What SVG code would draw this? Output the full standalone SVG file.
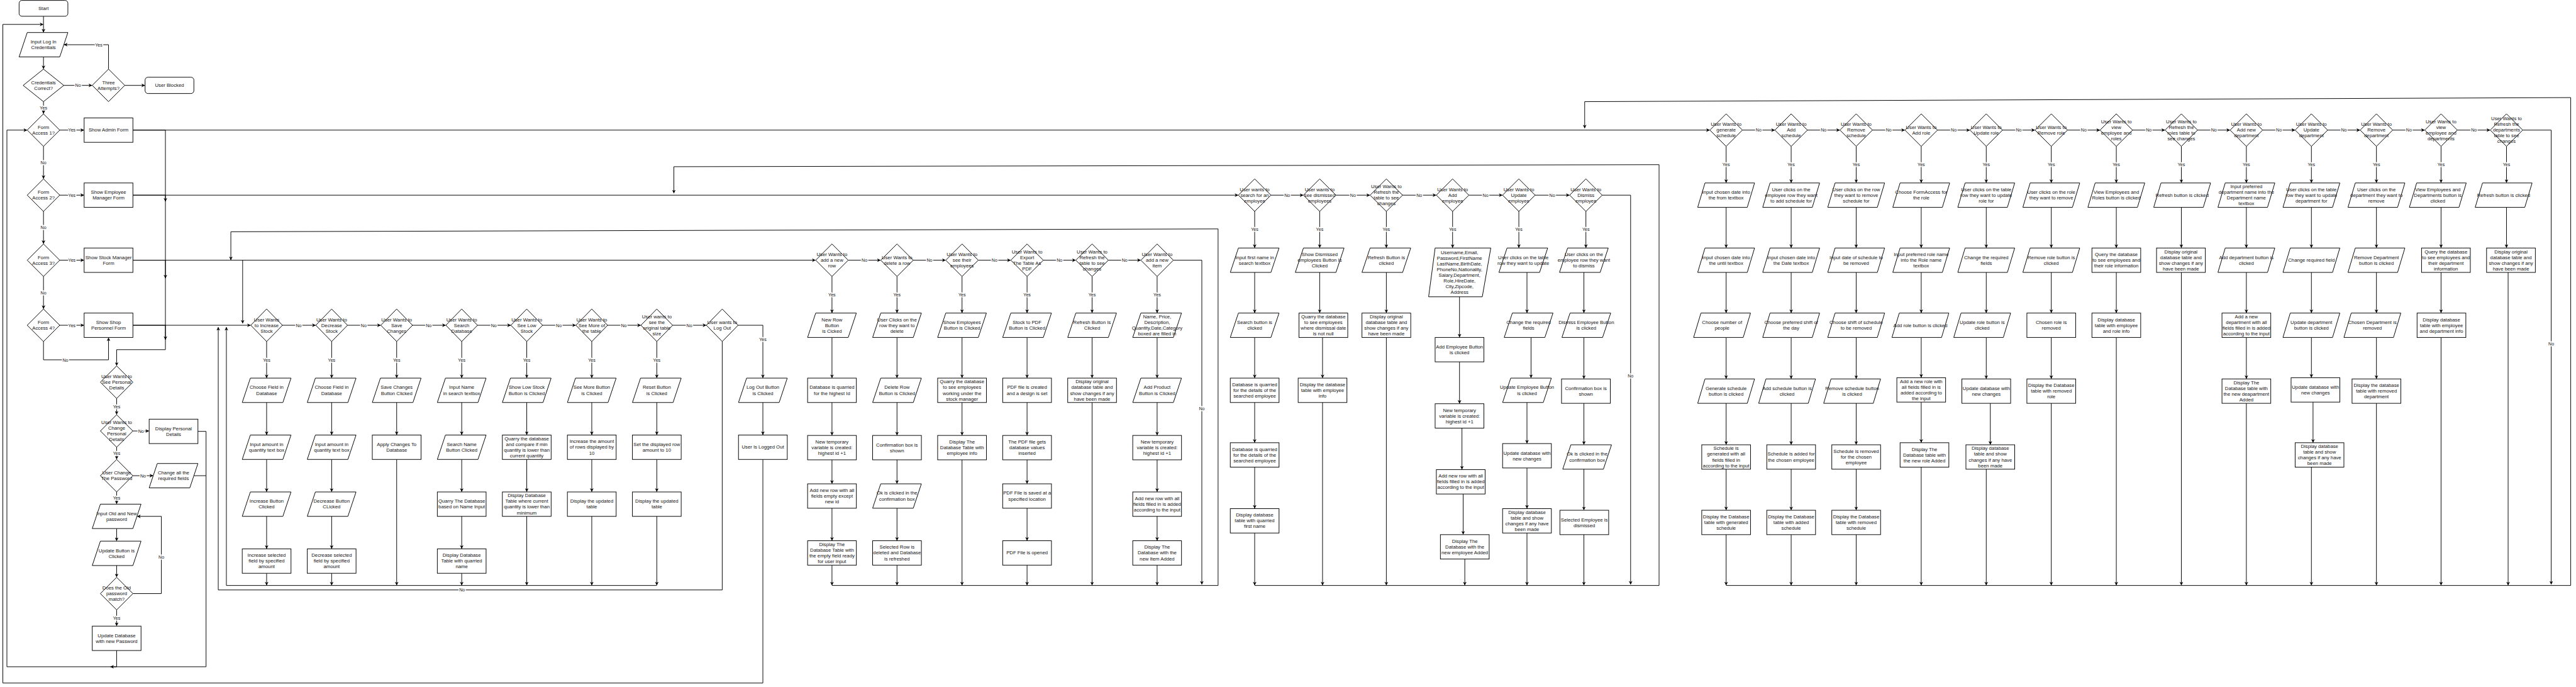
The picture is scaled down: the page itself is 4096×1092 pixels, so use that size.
<svg xmlns="http://www.w3.org/2000/svg" width="4096" height="1092" viewBox="0 0 4096 1092">
<style>
.n{fill:#fff;stroke:#000;stroke-width:1.5}
.t{font-family:"Liberation Sans",Arial,sans-serif;font-size:12px;fill:#111;text-anchor:middle}
.e{fill:none;stroke:#000;stroke-width:1.5}
.a{marker-end:url(#ah)}
.l{font-family:"Liberation Sans",Arial,sans-serif;font-size:11px;fill:#111;text-anchor:middle;paint-order:stroke;stroke:#fff;stroke-width:5px;stroke-linejoin:round}
</style>
<defs>
<marker id="ah" viewBox="0 0 10 10" refX="9" refY="5" markerWidth="9" markerHeight="9" markerUnits="userSpaceOnUse" orient="auto"><path d="M0,0 L10,5 L0,10 L3,5 z" fill="#000"/></marker>
</defs>
<rect width="4096" height="1092" fill="#fff"/>
<g transform="scale(0.646259)">
<g id="connectors">
<path class="e a" d="M107,40 V79"/>
<path class="e a" d="M107,140 V169"/>
<path class="e a" d="M157,210 H226"/><text class="l" x="192" y="214">No</text>
<path class="e a" d="M307,210 H356"/>
<path class="e a" d="M267,170 V110 H158"/><text class="l" x="243" y="114">Yes</text>
<path class="e a" d="M107,250 V279"/><text class="l" x="107" y="269">Yes</text>
<path class="e a" d="M147,320 H206"/><text class="l" x="177" y="324">Yes</text>
<path class="e a" d="M107,360 V439"/><text class="l" x="107" y="404">No</text>
<path class="e a" d="M147,480 H206"/><text class="l" x="177" y="484">Yes</text>
<path class="e a" d="M107,520 V599"/><text class="l" x="107" y="564">No</text>
<path class="e a" d="M147,640 H206"/><text class="l" x="177" y="644">Yes</text>
<path class="e a" d="M107,680 V759"/><text class="l" x="107" y="724">No</text>
<path class="e a" d="M147,800 H206"/><text class="l" x="177" y="804">Yes</text>
<path class="e a" d="M107,840 V885 H267 V831"/><text class="l" x="161" y="889">No</text>
<path class="e a" d="M327,320 H407 V860 H287 V899"/>
<path class="e a" d="M327,480 H407 V495"/>
<path class="e a" d="M327,640 H407 V684"/>
<path class="e a" d="M327,800 H407 V835"/>
<path class="e a" d="M287,980 V1019"/><text class="l" x="287" y="1004">Yes</text>
<path class="e a" d="M327,1060 H366"/><text class="l" x="347" y="1064">No</text>
<path class="e a" d="M287,1100 V1129"/><text class="l" x="287" y="1119">Yes</text>
<path class="e a" d="M327,1170 H376"/><text class="l" x="352" y="1174">No</text>
<path class="e a" d="M287,1210 V1239"/><text class="l" x="287" y="1229">Yes</text>
<path class="e a" d="M287,1300 V1330"/>
<path class="e a" d="M287,1391 V1419"/>
<path class="e a" d="M327,1460 H397 V1270 H338"/><text class="l" x="397" y="1374">No</text>
<path class="e a" d="M287,1500 V1539"/><text class="l" x="287" y="1524">Yes</text>
<path class="e a" d="M487,1061 H507 V1640 H17 V320 H66"/>
<path class="e" d="M477,1170 H507"/>
<path class="e a" d="M287,1600 V1640 H272"/>
<path class="e a" d="M1877,1130 V1680 H7 V60 H106"/>
<path class="e a" d="M327,320 H4206"/>
<path class="e a" d="M327,480 H3046"/>
<path class="e a" d="M327,640 H2006"/>
<path class="e a" d="M597,640 V795"/>
<path class="e a" d="M327,800 H616"/>
<!-- row 800 -->
<path class="e a" d="M695,800 H776"/><text class="l" x="735" y="804">No</text>
<path class="e a" d="M855,800 H936"/><text class="l" x="895" y="804">No</text>
<path class="e a" d="M1015,800 H1096"/><text class="l" x="1055" y="804">No</text>
<path class="e a" d="M1175,800 H1256"/><text class="l" x="1215" y="804">No</text>
<path class="e a" d="M1335,800 H1416"/><text class="l" x="1375" y="804">No</text>
<path class="e a" d="M1495,800 H1576"/><text class="l" x="1535" y="804">No</text>
<path class="e a" d="M1655,800 H1737"/><text class="l" x="1696" y="804">No</text>
<path class="e a" d="M656,840 V929"/><text class="l" x="656" y="889">Yes</text>
<path class="e a" d="M656,990 V1069"/><path class="e a" d="M656,1130 V1209"/><path class="e a" d="M656,1270 V1349"/><path class="e a" d="M656,1410 V1439"/>
<path class="e a" d="M816,840 V929"/><text class="l" x="816" y="889">Yes</text>
<path class="e a" d="M816,990 V1069"/><path class="e a" d="M816,1130 V1209"/><path class="e a" d="M816,1270 V1349"/><path class="e a" d="M816,1410 V1439"/>
<path class="e a" d="M976,840 V929"/><text class="l" x="976" y="889">Yes</text>
<path class="e a" d="M976,990 V1069"/><path class="e a" d="M976,1130 V1439"/>
<path class="e a" d="M1136,840 V929"/><text class="l" x="1136" y="889">Yes</text>
<path class="e a" d="M1136,990 V1069"/><path class="e a" d="M1136,1130 V1209"/><path class="e a" d="M1136,1270 V1349"/><path class="e a" d="M1136,1410 V1439"/>
<path class="e a" d="M1296,840 V929"/><text class="l" x="1296" y="889">Yes</text>
<path class="e a" d="M1296,990 V1069"/><path class="e a" d="M1296,1130 V1209"/><path class="e a" d="M1296,1270 V1439"/>
<path class="e a" d="M1456,840 V929"/><text class="l" x="1456" y="889">Yes</text>
<path class="e a" d="M1456,990 V1069"/><path class="e a" d="M1456,1130 V1209"/><path class="e a" d="M1456,1270 V1439"/>
<path class="e a" d="M1616,840 V929"/><text class="l" x="1616" y="889">Yes</text>
<path class="e a" d="M1616,990 V1069"/><path class="e a" d="M1616,1130 V1209"/><path class="e a" d="M1616,1270 V1439"/>
<path class="e a" d="M1616,1440 H557 V805"/>
<path class="e a" d="M1777,840 V1451 H537 V805"/><text class="l" x="1137" y="1455">No</text>
<path class="e a" d="M1816,800 H1877 V929"/><text class="l" x="1877" y="839">Yes</text>
<path class="e a" d="M1877,990 V1069"/>
<!-- stock manager -->
<path class="e a" d="M2087,640 H2166"/><text class="l" x="2127" y="644">No</text>
<path class="e a" d="M2247,640 H2326"/><text class="l" x="2287" y="644">No</text>
<path class="e a" d="M2407,640 H2486"/><text class="l" x="2447" y="644">No</text>
<path class="e a" d="M2567,640 H2646"/><text class="l" x="2607" y="644">No</text>
<path class="e a" d="M2727,640 H2806"/><text class="l" x="2767" y="644">No</text>
<path class="e a" d="M2887,640 H2957 V1437"/><text class="l" x="2957" y="1009">No</text>
<path class="e a" d="M2047,680 V769"/><text class="l" x="2047" y="729">Yes</text>
<path class="e a" d="M2047,830 V929"/><path class="e a" d="M2047,990 V1070"/><path class="e a" d="M2047,1131 V1189"/><path class="e a" d="M2047,1250 V1329"/><path class="e a" d="M2047,1390 V1439"/>
<path class="e a" d="M2207,680 V769"/><text class="l" x="2207" y="729">Yes</text>
<path class="e a" d="M2207,830 V929"/><path class="e a" d="M2207,990 V1070"/><path class="e a" d="M2207,1131 V1189"/><path class="e a" d="M2207,1250 V1329"/><path class="e a" d="M2207,1390 V1439"/>
<path class="e a" d="M2367,680 V769"/><text class="l" x="2367" y="729">Yes</text>
<path class="e a" d="M2367,830 V929"/><path class="e a" d="M2367,990 V1070"/><path class="e a" d="M2367,1131 V1439"/>
<path class="e a" d="M2527,680 V769"/><text class="l" x="2527" y="729">Yes</text>
<path class="e a" d="M2527,830 V929"/><path class="e a" d="M2527,990 V1070"/><path class="e a" d="M2527,1131 V1189"/><path class="e a" d="M2527,1250 V1329"/><path class="e a" d="M2527,1390 V1439"/>
<path class="e a" d="M2687,680 V769"/><text class="l" x="2687" y="729">Yes</text>
<path class="e a" d="M2687,830 V929"/><path class="e a" d="M2687,990 V1439"/>
<path class="e a" d="M2847,680 V769"/><text class="l" x="2847" y="729">Yes</text>
<path class="e a" d="M2847,830 V929"/><path class="e a" d="M2847,990 V1070"/><path class="e a" d="M2847,1131 V1209"/><path class="e a" d="M2847,1270 V1329"/><path class="e a" d="M2847,1390 V1439"/>
<path class="e a" d="M2047,1440 H2997 V563 L568,570 V639"/>
<!-- employee -->
<path class="e a" d="M3127,480 H3206"/><text class="l" x="3167" y="484">No</text>
<path class="e a" d="M3287,480 H3370"/><text class="l" x="3329" y="484">No</text>
<path class="e a" d="M3451,480 H3533"/><text class="l" x="3492" y="484">No</text>
<path class="e a" d="M3614,480 H3696"/><text class="l" x="3655" y="484">No</text>
<path class="e a" d="M3777,480 H3861"/><text class="l" x="3819" y="484">No</text>
<path class="e a" d="M3942,480 H4012 V1437"/><text class="l" x="4012" y="929">No</text>
<path class="e a" d="M3087,520 V609"/><text class="l" x="3087" y="568">Yes</text>
<path class="e a" d="M3087,670 V769"/><path class="e a" d="M3087,830 V929"/><path class="e a" d="M3087,990 V1088"/><path class="e a" d="M3087,1149 V1250"/><path class="e a" d="M3087,1311 V1439"/>
<path class="e a" d="M3247,520 V609"/><text class="l" x="3247" y="568">Yes</text>
<path class="e a" d="M3247,670 V769"/><path class="e a" d="M3254,830 V929"/><path class="e a" d="M3254,990 V1439"/>
<path class="e a" d="M3411,520 V609"/><text class="l" x="3411" y="568">Yes</text>
<path class="e a" d="M3411,670 V769"/><path class="e a" d="M3411,830 V1439"/>
<path class="e a" d="M3574,520 V609"/><text class="l" x="3574" y="568">Yes</text>
<path class="e a" d="M3591,730 V829"/><path class="e a" d="M3591,890 V992"/><path class="e a" d="M3597,1053 V1154"/><path class="e a" d="M3600,1215 V1314"/><path class="e a" d="M3604,1375 V1439"/>
<path class="e a" d="M3737,520 V609"/><text class="l" x="3737" y="568">Yes</text>
<path class="e a" d="M3757,670 V769"/><path class="e a" d="M3767,830 V929"/><path class="e a" d="M3757,990 V1090"/><path class="e a" d="M3757,1151 V1250"/><path class="e a" d="M3757,1311 V1439"/>
<path class="e a" d="M3902,520 V609"/><text class="l" x="3902" y="568">Yes</text>
<path class="e a" d="M3897,670 V769"/><path class="e a" d="M3897,830 V931"/><path class="e a" d="M3897,992 V1093"/><path class="e a" d="M3897,1154 V1254"/><path class="e a" d="M3897,1315 V1439"/>
<path class="e a" d="M3087,1440 H4082 V405 L1658,410 V475"/>
<!-- admin -->
<path class="e a" d="M4287,320 H4366"/><text class="l" x="4327" y="324">No</text>
<path class="e a" d="M4447,320 H4526"/><text class="l" x="4487" y="324">No</text>
<path class="e a" d="M4607,320 H4686"/><text class="l" x="4647" y="324">No</text>
<path class="e a" d="M4767,320 H4846"/><text class="l" x="4807" y="324">No</text>
<path class="e a" d="M4927,320 H5006"/><text class="l" x="4967" y="324">No</text>
<path class="e a" d="M5087,320 H5166"/><text class="l" x="5127" y="324">No</text>
<path class="e a" d="M5247,320 H5326"/><text class="l" x="5287" y="324">No</text>
<path class="e a" d="M5407,320 H5486"/><text class="l" x="5447" y="324">No</text>
<path class="e a" d="M5567,320 H5646"/><text class="l" x="5607" y="324">No</text>
<path class="e a" d="M5727,320 H5806"/><text class="l" x="5767" y="324">No</text>
<path class="e a" d="M5887,320 H5965"/><text class="l" x="5927" y="324">No</text>
<path class="e a" d="M6046,320 H6126"/><text class="l" x="6087" y="324">No</text>
<path class="e a" d="M6207,320 H6277 V1437"/><text class="l" x="6277" y="849">No</text>
<path class="e a" d="M4247,360 V449"/><text class="l" x="4247" y="409">Yes</text>
<path class="e a" d="M4247,510 V609"/><path class="e a" d="M4247,670 V769"/><path class="e a" d="M4247,830 V931"/><path class="e a" d="M4247,992 V1093"/><path class="e a" d="M4247,1154 V1254"/><path class="e a" d="M4247,1315 V1439"/>
<path class="e a" d="M4407,360 V449"/><text class="l" x="4407" y="409">Yes</text>
<path class="e a" d="M4407,510 V609"/><path class="e a" d="M4407,670 V769"/><path class="e a" d="M4407,830 V931"/><path class="e a" d="M4407,992 V1093"/><path class="e a" d="M4407,1154 V1254"/><path class="e a" d="M4407,1315 V1439"/>
<path class="e a" d="M4567,360 V449"/><text class="l" x="4567" y="409">Yes</text>
<path class="e a" d="M4567,510 V609"/><path class="e a" d="M4567,670 V769"/><path class="e a" d="M4567,830 V931"/><path class="e a" d="M4567,992 V1093"/><path class="e a" d="M4567,1154 V1254"/><path class="e a" d="M4567,1315 V1439"/>
<path class="e a" d="M4727,360 V449"/><text class="l" x="4727" y="409">Yes</text>
<path class="e a" d="M4727,510 V609"/><path class="e a" d="M4727,670 V769"/><path class="e a" d="M4727,830 V928"/><path class="e a" d="M4727,989 V1088"/><path class="e a" d="M4727,1149 V1439"/>
<path class="e a" d="M4887,360 V449"/><text class="l" x="4887" y="409">Yes</text>
<path class="e a" d="M4887,510 V609"/><path class="e a" d="M4887,670 V769"/><path class="e a" d="M4887,830 V931"/><path class="e a" d="M4897,992 V1093"/><path class="e a" d="M4887,1154 V1439"/>
<path class="e a" d="M5047,360 V449"/><text class="l" x="5047" y="409">Yes</text>
<path class="e a" d="M5047,510 V609"/><path class="e a" d="M5047,670 V769"/><path class="e a" d="M5047,830 V931"/><path class="e a" d="M5047,992 V1439"/>
<path class="e a" d="M5207,360 V449"/><text class="l" x="5207" y="409">Yes</text>
<path class="e a" d="M5207,510 V609"/><path class="e a" d="M5207,670 V769"/><path class="e a" d="M5207,830 V1439"/>
<path class="e a" d="M5367,360 V449"/><text class="l" x="5367" y="409">Yes</text>
<path class="e a" d="M5367,510 V609"/><path class="e a" d="M5367,670 V1439"/>
<path class="e a" d="M5527,360 V449"/><text class="l" x="5527" y="409">Yes</text>
<path class="e a" d="M5527,510 V609"/><path class="e a" d="M5527,670 V769"/><path class="e a" d="M5527,830 V931"/><path class="e a" d="M5527,992 V1439"/>
<path class="e a" d="M5687,360 V449"/><text class="l" x="5687" y="409">Yes</text>
<path class="e a" d="M5687,510 V609"/><path class="e a" d="M5687,670 V769"/><path class="e a" d="M5687,830 V928"/><path class="e a" d="M5691,989 V1088"/><path class="e a" d="M5687,1149 V1439"/>
<path class="e a" d="M5847,360 V449"/><text class="l" x="5847" y="409">Yes</text>
<path class="e a" d="M5847,510 V609"/><path class="e a" d="M5847,670 V769"/><path class="e a" d="M5847,830 V931"/><path class="e a" d="M5847,992 V1439"/>
<path class="e a" d="M6006,360 V449"/><text class="l" x="6006" y="409">Yes</text>
<path class="e a" d="M6006,510 V609"/><path class="e a" d="M6006,670 V769"/><path class="e a" d="M6006,830 V1439"/>
<path class="e a" d="M6167,360 V449"/><text class="l" x="6167" y="409">Yes</text>
<path class="e a" d="M6167,510 V609"/><path class="e a" d="M6171,670 V1439"/>
<path class="e a" d="M4247,1440 H6325 V240 L3899,250 V315"/>
</g>

<!-- LEFT -->
<g id="n-start"><rect class="n" x="47" y="1" width="120" height="39" rx="7"/><text class="t" x="107" y="25">Start</text></g>
<g id="n-input"><polygon class="n" points="67,80 167,80 147,140 47,140"/><text class="t"><tspan x="107" y="107">Input Log In</tspan><tspan x="107" y="121">Credentials</tspan></text></g>
<g id="n-cred"><polygon class="n" points="107,170 157,210 107,250 57,210"/><text class="t"><tspan x="107" y="207">Credentials</tspan><tspan x="107" y="221">Correct?</tspan></text></g>
<g id="n-three"><polygon class="n" points="267,170 307,210 267,250 227,210"/><text class="t"><tspan x="267" y="207">Three</tspan><tspan x="267" y="221">Attempts?</tspan></text></g>
<g id="n-blocked"><rect class="n" x="357" y="190" width="120" height="40" rx="7"/><text class="t" x="417" y="214">User Blocked</text></g>
<g id="n-fa1"><polygon class="n" points="107,280 147,320 107,360 67,320"/><text class="t"><tspan x="107" y="317">Form</tspan><tspan x="107" y="331">Access 1?</tspan></text></g>
<g id="n-admin-form"><rect class="n" x="207" y="290" width="120" height="60"/><text class="t" x="267" y="324">Show Admin Form</text></g>
<g id="n-fa2"><polygon class="n" points="107,440 147,480 107,520 67,480"/><text class="t"><tspan x="107" y="477">Form</tspan><tspan x="107" y="491">Access 2?</tspan></text></g>
<g id="n-emp-form"><rect class="n" x="207" y="450" width="120" height="60"/><text class="t"><tspan x="267" y="477">Show Employee</tspan><tspan x="267" y="491">Manager Form</tspan></text></g>
<g id="n-fa3"><polygon class="n" points="107,600 147,640 107,680 67,640"/><text class="t"><tspan x="107" y="637">Form</tspan><tspan x="107" y="651">Access 3?</tspan></text></g>
<g id="n-stock-form"><rect class="n" x="207" y="610" width="120" height="60"/><text class="t"><tspan x="267" y="637">Show Stock Manager</tspan><tspan x="267" y="651">Form</tspan></text></g>
<g id="n-fa4"><polygon class="n" points="107,760 147,800 107,840 67,800"/><text class="t"><tspan x="107" y="797">Form</tspan><tspan x="107" y="811">Access 4?</tspan></text></g>
<g id="n-shop-form"><rect class="n" x="207" y="770" width="120" height="60"/><text class="t"><tspan x="267" y="797">Show Shop</tspan><tspan x="267" y="811">Personnel Form</tspan></text></g>
<g id="n-see-pd"><polygon class="n" points="287,900 327,940 287,980 247,940"/><text class="t"><tspan x="287" y="930">User Wants to</tspan><tspan x="287" y="944">See Personal</tspan><tspan x="287" y="958">Details</tspan></text></g>
<g id="n-change-pd"><polygon class="n" points="287,1020 327,1060 287,1100 247,1060"/><text class="t"><tspan x="287" y="1043">User Wants to</tspan><tspan x="287" y="1057">Change</tspan><tspan x="287" y="1071">Personal</tspan><tspan x="287" y="1085">Details</tspan></text></g>
<g id="n-disp-pd"><rect class="n" x="367" y="1031" width="120" height="60"/><text class="t"><tspan x="427" y="1058">Display Personal</tspan><tspan x="427" y="1072">Details</tspan></text></g>
<g id="n-change-pw"><polygon class="n" points="287,1130 327,1170 287,1210 247,1170"/><text class="t"><tspan x="287" y="1167">User Change</tspan><tspan x="287" y="1181">The Password</tspan></text></g>
<g id="n-change-all"><polygon class="n" points="387,1140 487,1140 467,1200 367,1200"/><text class="t"><tspan x="427" y="1167">Change all the</tspan><tspan x="427" y="1181">required fields</tspan></text></g>
<g id="n-input-old"><polygon class="n" points="247,1240 347,1240 327,1300 227,1300"/><text class="t"><tspan x="287" y="1267">Input Old and New</tspan><tspan x="287" y="1281">password</tspan></text></g>
<g id="n-upd-btn"><polygon class="n" points="247,1331 347,1331 327,1391 227,1391"/><text class="t"><tspan x="287" y="1358">Update Button is</tspan><tspan x="287" y="1372">Clicked</tspan></text></g>
<g id="n-old-match"><polygon class="n" points="287,1420 327,1460 287,1500 247,1460"/><text class="t"><tspan x="287" y="1450">Does the Old</tspan><tspan x="287" y="1464">password</tspan><tspan x="287" y="1478">match?</tspan></text></g>
<g id="n-upd-db"><rect class="n" x="227" y="1540" width="120" height="60"/><text class="t"><tspan x="287" y="1567">Update Database</tspan><tspan x="287" y="1581">with new Password</tspan></text></g>

<!-- ROW 800 -->
<g id="n-inc"><polygon class="n" points="656,760 695,800 656,840 617,800"/><text class="t"><tspan x="656" y="790">User Wants</tspan><tspan x="656" y="804">to Increase</tspan><tspan x="656" y="818">Stock</tspan></text></g>
<g id="n-inc-1"><polygon class="n" points="616,930 716,930 696,990 596,990"/><text class="t"><tspan x="656" y="957">Choose Field in</tspan><tspan x="656" y="971">Database</tspan></text></g>
<g id="n-inc-2"><polygon class="n" points="616,1070 716,1070 696,1130 596,1130"/><text class="t"><tspan x="656" y="1097">Input amount in</tspan><tspan x="656" y="1111">quantity text box</tspan></text></g>
<g id="n-inc-3"><polygon class="n" points="616,1210 716,1210 696,1270 596,1270"/><text class="t"><tspan x="656" y="1237">Increase Button</tspan><tspan x="656" y="1251">Clicked</tspan></text></g>
<g id="n-inc-4"><rect class="n" x="596" y="1350" width="120" height="60"/><text class="t"><tspan x="656" y="1370">Increase selected</tspan><tspan x="656" y="1384">field by specified</tspan><tspan x="656" y="1398">amount</tspan></text></g>
<g id="n-dec"><polygon class="n" points="816,760 855,800 816,840 777,800"/><text class="t"><tspan x="816" y="790">User Wants to</tspan><tspan x="816" y="804">Decrease</tspan><tspan x="816" y="818">Stock</tspan></text></g>
<g id="n-dec-1"><polygon class="n" points="776,930 876,930 856,990 756,990"/><text class="t"><tspan x="816" y="957">Choose Field in</tspan><tspan x="816" y="971">Database</tspan></text></g>
<g id="n-dec-2"><polygon class="n" points="776,1070 876,1070 856,1130 756,1130"/><text class="t"><tspan x="816" y="1097">Input amount in</tspan><tspan x="816" y="1111">quantity text box</tspan></text></g>
<g id="n-dec-3"><polygon class="n" points="776,1210 876,1210 856,1270 756,1270"/><text class="t"><tspan x="816" y="1237">Decrease Button</tspan><tspan x="816" y="1251">CLicked</tspan></text></g>
<g id="n-dec-4"><rect class="n" x="756" y="1350" width="120" height="60"/><text class="t"><tspan x="816" y="1370">Decrease selected</tspan><tspan x="816" y="1384">field by specified</tspan><tspan x="816" y="1398">amount</tspan></text></g>
<g id="n-save"><polygon class="n" points="976,760 1015,800 976,840 937,800"/><text class="t"><tspan x="976" y="790">User Wants to</tspan><tspan x="976" y="804">Save</tspan><tspan x="976" y="818">Changes</tspan></text></g>
<g id="n-save-1"><polygon class="n" points="936,930 1036,930 1016,990 916,990"/><text class="t"><tspan x="976" y="957">Save Changes</tspan><tspan x="976" y="971">Button Clicked</tspan></text></g>
<g id="n-save-2"><rect class="n" x="916" y="1070" width="120" height="60"/><text class="t"><tspan x="976" y="1097">Apply Changes To</tspan><tspan x="976" y="1111">Database</tspan></text></g>
<g id="n-search"><polygon class="n" points="1136,760 1175,800 1136,840 1097,800"/><text class="t"><tspan x="1136" y="790">User Wants to</tspan><tspan x="1136" y="804">Search</tspan><tspan x="1136" y="818">Database</tspan></text></g>
<g id="n-search-1"><polygon class="n" points="1096,930 1196,930 1176,990 1076,990"/><text class="t"><tspan x="1136" y="957">Input Name</tspan><tspan x="1136" y="971">in search textbox</tspan></text></g>
<g id="n-search-2"><polygon class="n" points="1096,1070 1196,1070 1176,1130 1076,1130"/><text class="t"><tspan x="1136" y="1097">Search Name</tspan><tspan x="1136" y="1111">Button Clicked</tspan></text></g>
<g id="n-search-3"><rect class="n" x="1076" y="1210" width="120" height="60"/><text class="t"><tspan x="1136" y="1237">Quarry The Database</tspan><tspan x="1136" y="1251">based on Name Input</tspan></text></g>
<g id="n-search-4"><rect class="n" x="1076" y="1350" width="120" height="60"/><text class="t"><tspan x="1136" y="1370">Display Database</tspan><tspan x="1136" y="1384">Table with quarried</tspan><tspan x="1136" y="1398">name</tspan></text></g>
<g id="n-low"><polygon class="n" points="1296,760 1335,800 1296,840 1257,800"/><text class="t"><tspan x="1296" y="790">User Wants to</tspan><tspan x="1296" y="804">See Low</tspan><tspan x="1296" y="818">Stock</tspan></text></g>
<g id="n-low-1"><polygon class="n" points="1256,930 1356,930 1336,990 1236,990"/><text class="t"><tspan x="1296" y="957">Show Low Stock</tspan><tspan x="1296" y="971">Button is Clicked</tspan></text></g>
<g id="n-low-2"><rect class="n" x="1236" y="1070" width="120" height="60"/><text class="t"><tspan x="1296" y="1083">Quarry the database</tspan><tspan x="1296" y="1097">and compare if min</tspan><tspan x="1296" y="1111">quantity is lower than</tspan><tspan x="1296" y="1125">current quantity</tspan></text></g>
<g id="n-low-3"><rect class="n" x="1236" y="1210" width="120" height="60"/><text class="t"><tspan x="1296" y="1223">Display Database</tspan><tspan x="1296" y="1237">Table where current</tspan><tspan x="1296" y="1251">quantity is lower than</tspan><tspan x="1296" y="1265">minimum</tspan></text></g>
<g id="n-more"><polygon class="n" points="1456,760 1495,800 1456,840 1417,800"/><text class="t"><tspan x="1456" y="790">User Wants to</tspan><tspan x="1456" y="804">See More of</tspan><tspan x="1456" y="818">the table</tspan></text></g>
<g id="n-more-1"><polygon class="n" points="1416,930 1516,930 1496,990 1396,990"/><text class="t"><tspan x="1456" y="957">See More Button</tspan><tspan x="1456" y="971">is Clicked</tspan></text></g>
<g id="n-more-2"><rect class="n" x="1396" y="1070" width="120" height="60"/><text class="t"><tspan x="1456" y="1090">Increase the amount</tspan><tspan x="1456" y="1104">of rows displayed by</tspan><tspan x="1456" y="1118">10</tspan></text></g>
<g id="n-more-3"><rect class="n" x="1396" y="1210" width="120" height="60"/><text class="t"><tspan x="1456" y="1237">Display the updated</tspan><tspan x="1456" y="1251">table</tspan></text></g>
<g id="n-orig"><polygon class="n" points="1616,760 1655,800 1616,840 1577,800"/><text class="t"><tspan x="1616" y="783">User wants to</tspan><tspan x="1616" y="797">see the</tspan><tspan x="1616" y="811">original table</tspan><tspan x="1616" y="825">size</tspan></text></g>
<g id="n-orig-1"><polygon class="n" points="1576,930 1676,930 1656,990 1556,990"/><text class="t"><tspan x="1616" y="957">Reset Button</tspan><tspan x="1616" y="971">is Clicked</tspan></text></g>
<g id="n-orig-2"><rect class="n" x="1556" y="1070" width="120" height="60"/><text class="t"><tspan x="1616" y="1097">Set the displayed row</tspan><tspan x="1616" y="1111">amount to 10</tspan></text></g>
<g id="n-orig-3"><rect class="n" x="1556" y="1210" width="120" height="60"/><text class="t"><tspan x="1616" y="1237">Display the updated</tspan><tspan x="1616" y="1251">table</tspan></text></g>
<g id="n-logout"><polygon class="n" points="1777,760 1816,800 1777,840 1738,800"/><text class="t"><tspan x="1777" y="797">User wants to</tspan><tspan x="1777" y="811">Log Out</tspan></text></g>
<g id="n-logout-1"><polygon class="n" points="1837,930 1937,930 1917,990 1817,990"/><text class="t"><tspan x="1877" y="957">Log Out Button</tspan><tspan x="1877" y="971">is Clicked</tspan></text></g>
<g id="n-logout-2"><rect class="n" x="1817" y="1070" width="120" height="60"/><text class="t" x="1877" y="1104">User Is Logged Out</text></g>

<!-- STOCK MANAGER -->
<g id="n-sm1"><polygon class="n" points="2047,600 2087,640 2047,680 2007,640"/><text class="t"><tspan x="2047" y="630">User Wants to</tspan><tspan x="2047" y="644">add a new</tspan><tspan x="2047" y="658">row</tspan></text></g>
<g id="n-sm1-1"><polygon class="n" points="2007,770 2107,770 2087,830 1987,830"/><text class="t"><tspan x="2047" y="790">New Row</tspan><tspan x="2047" y="804">Button</tspan><tspan x="2047" y="818">is Cicked</tspan></text></g>
<g id="n-sm1-2"><rect class="n" x="1987" y="930" width="120" height="60"/><text class="t"><tspan x="2047" y="957">Database is quarried</tspan><tspan x="2047" y="971">for the highest Id</tspan></text></g>
<g id="n-sm1-3"><rect class="n" x="1987" y="1071" width="120" height="60"/><text class="t"><tspan x="2047" y="1091">New temporary</tspan><tspan x="2047" y="1105">variable is created:</tspan><tspan x="2047" y="1119">highest id +1</tspan></text></g>
<g id="n-sm1-4"><rect class="n" x="1987" y="1190" width="120" height="60"/><text class="t"><tspan x="2047" y="1210">Add new row with all</tspan><tspan x="2047" y="1224">fields empty except</tspan><tspan x="2047" y="1238">new id</tspan></text></g>
<g id="n-sm1-5"><rect class="n" x="1987" y="1330" width="120" height="60"/><text class="t"><tspan x="2047" y="1343">Display The</tspan><tspan x="2047" y="1357">Database Table with</tspan><tspan x="2047" y="1371">the empty field ready</tspan><tspan x="2047" y="1385">for user input</tspan></text></g>
<g id="n-sm2"><polygon class="n" points="2207,600 2247,640 2207,680 2167,640"/><text class="t"><tspan x="2207" y="637">User Wants to</tspan><tspan x="2207" y="651">delete a row</tspan></text></g>
<g id="n-sm2-1"><polygon class="n" points="2167,770 2267,770 2247,830 2147,830"/><text class="t"><tspan x="2207" y="790">User Clicks on the</tspan><tspan x="2207" y="804">row they want to</tspan><tspan x="2207" y="818">delete</tspan></text></g>
<g id="n-sm2-2"><polygon class="n" points="2167,930 2267,930 2247,990 2147,990"/><text class="t"><tspan x="2207" y="957">Delete Row</tspan><tspan x="2207" y="971">Button is Clicked</tspan></text></g>
<g id="n-sm2-3"><rect class="n" x="2147" y="1071" width="120" height="60"/><text class="t"><tspan x="2207" y="1098">Confirmation box is</tspan><tspan x="2207" y="1112">shown</tspan></text></g>
<g id="n-sm2-4"><polygon class="n" points="2167,1190 2267,1190 2247,1250 2147,1250"/><text class="t"><tspan x="2207" y="1217">Ok is clicked in the</tspan><tspan x="2207" y="1231">confirmation box</tspan></text></g>
<g id="n-sm2-5"><rect class="n" x="2147" y="1330" width="120" height="60"/><text class="t"><tspan x="2207" y="1350">Selected Row is</tspan><tspan x="2207" y="1364">deleted and Database</tspan><tspan x="2207" y="1378">is refreshed</tspan></text></g>
<g id="n-sm3"><polygon class="n" points="2367,600 2407,640 2367,680 2327,640"/><text class="t"><tspan x="2367" y="630">User Wants to</tspan><tspan x="2367" y="644">see their</tspan><tspan x="2367" y="658">employees</tspan></text></g>
<g id="n-sm3-1"><polygon class="n" points="2327,770 2427,770 2407,830 2307,830"/><text class="t"><tspan x="2367" y="797">Show Employees</tspan><tspan x="2367" y="811">Button is Clicked</tspan></text></g>
<g id="n-sm3-2"><rect class="n" x="2307" y="930" width="120" height="60"/><text class="t"><tspan x="2367" y="943">Quarry the database</tspan><tspan x="2367" y="957">to see employees</tspan><tspan x="2367" y="971">working under the</tspan><tspan x="2367" y="985">stock manager</tspan></text></g>
<g id="n-sm3-3"><rect class="n" x="2307" y="1071" width="120" height="60"/><text class="t"><tspan x="2367" y="1091">Display The</tspan><tspan x="2367" y="1105">Database Table with</tspan><tspan x="2367" y="1119">employee info</tspan></text></g>
<g id="n-sm4"><polygon class="n" points="2527,600 2567,640 2527,680 2487,640"/><text class="t"><tspan x="2527" y="623">User Wants to</tspan><tspan x="2527" y="637">Export</tspan><tspan x="2527" y="651">The Table As</tspan><tspan x="2527" y="665">PDF</tspan></text></g>
<g id="n-sm4-1"><polygon class="n" points="2487,770 2587,770 2567,830 2467,830"/><text class="t"><tspan x="2527" y="797">Stock to PDF</tspan><tspan x="2527" y="811">Button is Clicked</tspan></text></g>
<g id="n-sm4-2"><rect class="n" x="2467" y="930" width="120" height="60"/><text class="t"><tspan x="2527" y="957">PDF file is created</tspan><tspan x="2527" y="971">and a design is set</tspan></text></g>
<g id="n-sm4-3"><rect class="n" x="2467" y="1071" width="120" height="60"/><text class="t"><tspan x="2527" y="1091">The PDF file gets</tspan><tspan x="2527" y="1105">database values</tspan><tspan x="2527" y="1119">inserted</tspan></text></g>
<g id="n-sm4-4"><rect class="n" x="2467" y="1190" width="120" height="60"/><text class="t"><tspan x="2527" y="1217">PDF File is saved at a</tspan><tspan x="2527" y="1231">specified location</tspan></text></g>
<g id="n-sm4-5"><rect class="n" x="2467" y="1330" width="120" height="60"/><text class="t" x="2527" y="1364">PDF File is opened</text></g>
<g id="n-sm5"><polygon class="n" points="2687,600 2727,640 2687,680 2647,640"/><text class="t"><tspan x="2687" y="623">User Wants to</tspan><tspan x="2687" y="637">Refresh the</tspan><tspan x="2687" y="651">table to see</tspan><tspan x="2687" y="665">changes</tspan></text></g>
<g id="n-sm5-1"><polygon class="n" points="2647,770 2747,770 2727,830 2627,830"/><text class="t"><tspan x="2687" y="797">Refresh Button Is</tspan><tspan x="2687" y="811">Clicked</tspan></text></g>
<g id="n-sm5-2"><rect class="n" x="2627" y="930" width="120" height="60"/><text class="t"><tspan x="2687" y="943">Display original</tspan><tspan x="2687" y="957">database table and</tspan><tspan x="2687" y="971">show changes if any</tspan><tspan x="2687" y="985">have been made</tspan></text></g>
<g id="n-sm6"><polygon class="n" points="2847,600 2887,640 2847,680 2807,640"/><text class="t"><tspan x="2847" y="630">User Wants to</tspan><tspan x="2847" y="644">add a new</tspan><tspan x="2847" y="658">item</tspan></text></g>
<g id="n-sm6-1"><polygon class="n" points="2807,770 2907,770 2887,830 2787,830"/><text class="t"><tspan x="2847" y="783">Name, Price,</tspan><tspan x="2847" y="797">Description,</tspan><tspan x="2847" y="811">Quantity,Date,Category</tspan><tspan x="2847" y="825">boxed are filled in</tspan></text></g>
<g id="n-sm6-2"><polygon class="n" points="2807,930 2907,930 2887,990 2787,990"/><text class="t"><tspan x="2847" y="957">Add Product</tspan><tspan x="2847" y="971">Button is Clicked</tspan></text></g>
<g id="n-sm6-3"><rect class="n" x="2787" y="1071" width="120" height="60"/><text class="t"><tspan x="2847" y="1091">New temporary</tspan><tspan x="2847" y="1105">variable is created:</tspan><tspan x="2847" y="1119">highest id +1</tspan></text></g>
<g id="n-sm6-4"><rect class="n" x="2787" y="1210" width="120" height="60"/><text class="t"><tspan x="2847" y="1230">Add new row with all</tspan><tspan x="2847" y="1244">fields filled in is added</tspan><tspan x="2847" y="1258">according to the input</tspan></text></g>
<g id="n-sm6-5"><rect class="n" x="2787" y="1330" width="120" height="60"/><text class="t"><tspan x="2847" y="1350">Display The</tspan><tspan x="2847" y="1364">Database with the</tspan><tspan x="2847" y="1378">new Item Added</tspan></text></g>

<!-- EMPLOYEE MANAGER -->
<g id="n-em1"><polygon class="n" points="3087,440 3127,480 3087,520 3047,480"/><text class="t"><tspan x="3087" y="470">User wants to</tspan><tspan x="3087" y="484">search for an</tspan><tspan x="3087" y="498">employee</tspan></text></g>
<g id="n-em1-1"><polygon class="n" points="3047,610 3147,610 3127,670 3027,670"/><text class="t"><tspan x="3087" y="637">Input first name in</tspan><tspan x="3087" y="651">search textbox</tspan></text></g>
<g id="n-em1-2"><polygon class="n" points="3047,770 3147,770 3127,830 3027,830"/><text class="t"><tspan x="3087" y="797">Search button is</tspan><tspan x="3087" y="811">clicked</tspan></text></g>
<g id="n-em1-3"><rect class="n" x="3027" y="930" width="120" height="60"/><text class="t"><tspan x="3087" y="950">Database is quarried</tspan><tspan x="3087" y="964">for the details of the</tspan><tspan x="3087" y="978">searched employee</tspan></text></g>
<g id="n-em1-4"><rect class="n" x="3027" y="1089" width="120" height="60"/><text class="t"><tspan x="3087" y="1109">Database is quarried</tspan><tspan x="3087" y="1123">for the details of the</tspan><tspan x="3087" y="1137">searched employee</tspan></text></g>
<g id="n-em1-5"><rect class="n" x="3027" y="1251" width="120" height="60"/><text class="t"><tspan x="3087" y="1271">Display database</tspan><tspan x="3087" y="1285">table with quarried</tspan><tspan x="3087" y="1299">first name</tspan></text></g>
<g id="n-em2"><polygon class="n" points="3247,440 3287,480 3247,520 3207,480"/><text class="t"><tspan x="3247" y="470">User wants to</tspan><tspan x="3247" y="484">see dismissed</tspan><tspan x="3247" y="498">employees</tspan></text></g>
<g id="n-em2-1"><polygon class="n" points="3207,610 3307,610 3287,670 3187,670"/><text class="t"><tspan x="3247" y="630">Show Dismissed</tspan><tspan x="3247" y="644">employees Button Is</tspan><tspan x="3247" y="658">Clicked</tspan></text></g>
<g id="n-em2-2"><rect class="n" x="3196" y="770" width="120" height="60"/><text class="t"><tspan x="3256" y="783">Quarry the database</tspan><tspan x="3256" y="797">to see employees</tspan><tspan x="3256" y="811">where dismissal date</tspan><tspan x="3256" y="825">is not null</tspan></text></g>
<g id="n-em2-3"><rect class="n" x="3194" y="930" width="120" height="60"/><text class="t"><tspan x="3254" y="950">Display the database</tspan><tspan x="3254" y="964">table with employee</tspan><tspan x="3254" y="978">info</tspan></text></g>
<g id="n-em3"><polygon class="n" points="3411,440 3451,480 3411,520 3371,480"/><text class="t"><tspan x="3411" y="463">User Wants to</tspan><tspan x="3411" y="477">Refresh the</tspan><tspan x="3411" y="491">table to see</tspan><tspan x="3411" y="505">changes</tspan></text></g>
<g id="n-em3-1"><polygon class="n" points="3371,610 3471,610 3451,670 3351,670"/><text class="t"><tspan x="3411" y="637">Refresh Button is</tspan><tspan x="3411" y="651">clicked</tspan></text></g>
<g id="n-em3-2"><rect class="n" x="3351" y="770" width="120" height="60"/><text class="t"><tspan x="3411" y="783">Display original</tspan><tspan x="3411" y="797">database table and</tspan><tspan x="3411" y="811">show changes if any</tspan><tspan x="3411" y="825">have been made</tspan></text></g>
<g id="n-em4"><polygon class="n" points="3574,440 3614,480 3574,520 3534,480"/><text class="t"><tspan x="3574" y="470">User Wants to</tspan><tspan x="3574" y="484">Add</tspan><tspan x="3574" y="498">employee</tspan></text></g>
<g id="n-em4-1"><polygon class="n" points="3531,610 3668,610 3647,730 3515,730"/><text class="t"><tspan x="3591" y="625">Username,Email,</tspan><tspan x="3591" y="639">Password,FirstName</tspan><tspan x="3591" y="653">LastName,BirthDate,</tspan><tspan x="3591" y="667">PhoneNo,Nationality,</tspan><tspan x="3591" y="681">Salary,Department,</tspan><tspan x="3591" y="695">Role,HireDate,</tspan><tspan x="3591" y="709">City,Zipcode,</tspan><tspan x="3591" y="723">Address</tspan></text></g>
<g id="n-em4-2"><rect class="n" x="3531" y="830" width="120" height="60"/><text class="t"><tspan x="3591" y="857">Add Employee Button</tspan><tspan x="3591" y="871">is clicked</tspan></text></g>
<g id="n-em4-3"><rect class="n" x="3531" y="993" width="120" height="60"/><text class="t"><tspan x="3591" y="1013">New temporary</tspan><tspan x="3591" y="1027">variable is created:</tspan><tspan x="3591" y="1041">highest id +1</tspan></text></g>
<g id="n-em4-4"><rect class="n" x="3534" y="1155" width="120" height="60"/><text class="t"><tspan x="3594" y="1175">Add new row with all</tspan><tspan x="3594" y="1189">fields filled in is added</tspan><tspan x="3594" y="1203">according to the input</tspan></text></g>
<g id="n-em4-5"><rect class="n" x="3544" y="1315" width="120" height="60"/><text class="t"><tspan x="3604" y="1335">Display The</tspan><tspan x="3604" y="1349">Database with the</tspan><tspan x="3604" y="1363">new employee Added</tspan></text></g>
<g id="n-em5"><polygon class="n" points="3737,440 3777,480 3737,520 3697,480"/><text class="t"><tspan x="3737" y="470">User Wants to</tspan><tspan x="3737" y="484">Update</tspan><tspan x="3737" y="498">employee</tspan></text></g>
<g id="n-em5-1"><polygon class="n" points="3708,610 3808,610 3788,670 3688,670"/><text class="t"><tspan x="3748" y="637">User clicks on the table</tspan><tspan x="3748" y="651">row they want to update</tspan></text></g>
<g id="n-em5-2"><polygon class="n" points="3721,770 3821,770 3801,830 3701,830"/><text class="t"><tspan x="3761" y="797">Change the required</tspan><tspan x="3761" y="811">fields</tspan></text></g>
<g id="n-em5-3"><polygon class="n" points="3717,930 3817,930 3797,990 3697,990"/><text class="t"><tspan x="3757" y="957">Update Employee Button</tspan><tspan x="3757" y="971">is clicked</tspan></text></g>
<g id="n-em5-4"><rect class="n" x="3697" y="1091" width="120" height="60"/><text class="t"><tspan x="3757" y="1118">Update database with</tspan><tspan x="3757" y="1132">new changes</tspan></text></g>
<g id="n-em5-5"><rect class="n" x="3697" y="1251" width="120" height="60"/><text class="t"><tspan x="3757" y="1264">Display  database</tspan><tspan x="3757" y="1278">table and show</tspan><tspan x="3757" y="1292">changes if any have</tspan><tspan x="3757" y="1306">been made</tspan></text></g>
<g id="n-em6"><polygon class="n" points="3902,440 3942,480 3902,520 3862,480"/><text class="t"><tspan x="3902" y="470">User Wants to</tspan><tspan x="3902" y="484">Dismiss</tspan><tspan x="3902" y="498">employee</tspan></text></g>
<g id="n-em6-1"><polygon class="n" points="3857,610 3957,610 3937,670 3837,670"/><text class="t"><tspan x="3897" y="630">User clicks on the</tspan><tspan x="3897" y="644">employee row they want</tspan><tspan x="3897" y="658">to dismiss</tspan></text></g>
<g id="n-em6-2"><polygon class="n" points="3863,770 3963,770 3943,830 3843,830"/><text class="t"><tspan x="3903" y="797">Dismiss Employee Button</tspan><tspan x="3903" y="811">is clicked</tspan></text></g>
<g id="n-em6-3"><rect class="n" x="3842" y="932" width="120" height="60"/><text class="t"><tspan x="3902" y="959">Confirmation box is</tspan><tspan x="3902" y="973">shown</tspan></text></g>
<g id="n-em6-4"><polygon class="n" points="3865,1094 3965,1094 3945,1154 3845,1154"/><text class="t"><tspan x="3905" y="1121">Ok is clicked in the</tspan><tspan x="3905" y="1135">confirmation box</tspan></text></g>
<g id="n-em6-5"><rect class="n" x="3838" y="1255" width="120" height="60"/><text class="t"><tspan x="3898" y="1282">Selected Employee is</tspan><tspan x="3898" y="1296">dismissed</tspan></text></g>

<!-- ADMIN -->
<g id="n-ad1"><polygon class="n" points="4247,280 4287,320 4247,360 4207,320"/><text class="t"><tspan x="4247" y="310">User Wants to</tspan><tspan x="4247" y="324">generate</tspan><tspan x="4247" y="338">schedule</tspan></text></g>
<g id="n-ad1-1"><polygon class="n" points="4195,450 4317,450 4299,510 4177,510"/><text class="t"><tspan x="4247" y="477">Input chosen date into</tspan><tspan x="4247" y="491">the from textbox</tspan></text></g>
<g id="n-ad1-2"><polygon class="n" points="4195,610 4317,610 4299,670 4177,670"/><text class="t"><tspan x="4247" y="637">Input chosen date into</tspan><tspan x="4247" y="651">the until textbox</tspan></text></g>
<g id="n-ad1-3"><polygon class="n" points="4185,770 4307,770 4289,830 4167,830"/><text class="t"><tspan x="4237" y="797">Choose number of</tspan><tspan x="4237" y="811">people</tspan></text></g>
<g id="n-ad1-4"><polygon class="n" points="4195,932 4317,932 4299,992 4177,992"/><text class="t"><tspan x="4247" y="959">Generate schedule</tspan><tspan x="4247" y="973">button is clicked</tspan></text></g>
<g id="n-ad1-5"><rect class="n" x="4187" y="1094" width="120" height="60"/><text class="t"><tspan x="4247" y="1107">Schedule is</tspan><tspan x="4247" y="1121">generated with all</tspan><tspan x="4247" y="1135">fields filled in</tspan><tspan x="4247" y="1149">according to the input</tspan></text></g>
<g id="n-ad1-6"><rect class="n" x="4187" y="1255" width="120" height="60"/><text class="t"><tspan x="4247" y="1275">Display the Database</tspan><tspan x="4247" y="1289">table with generated</tspan><tspan x="4247" y="1303">schedule</tspan></text></g>
<g id="n-ad2"><polygon class="n" points="4407,280 4447,320 4407,360 4367,320"/><text class="t"><tspan x="4407" y="310">User Wants to</tspan><tspan x="4407" y="324">Add</tspan><tspan x="4407" y="338">schedule</tspan></text></g>
<g id="n-ad2-1"><polygon class="n" points="4355,450 4477,450 4459,510 4337,510"/><text class="t"><tspan x="4407" y="470">User clicks on the</tspan><tspan x="4407" y="484">employee row they want</tspan><tspan x="4407" y="498">to add schedule for</tspan></text></g>
<g id="n-ad2-2"><polygon class="n" points="4355,610 4477,610 4459,670 4337,670"/><text class="t"><tspan x="4407" y="637">Input chosen date into</tspan><tspan x="4407" y="651">the Date  textbox</tspan></text></g>
<g id="n-ad2-3"><polygon class="n" points="4355,770 4477,770 4459,830 4337,830"/><text class="t"><tspan x="4407" y="797">Choose preferred shift of</tspan><tspan x="4407" y="811">the day</tspan></text></g>
<g id="n-ad2-4"><polygon class="n" points="4345,932 4467,932 4449,992 4327,992"/><text class="t"><tspan x="4397" y="959">Add schedule button is</tspan><tspan x="4397" y="973">clicked</tspan></text></g>
<g id="n-ad2-5"><rect class="n" x="4347" y="1094" width="120" height="60"/><text class="t"><tspan x="4407" y="1121">Schedule is added for</tspan><tspan x="4407" y="1135">the chosen employee</tspan></text></g>
<g id="n-ad2-6"><rect class="n" x="4347" y="1255" width="120" height="60"/><text class="t"><tspan x="4407" y="1275">Display the Database</tspan><tspan x="4407" y="1289">table with added</tspan><tspan x="4407" y="1303">schedule</tspan></text></g>
<g id="n-ad3"><polygon class="n" points="4567,280 4607,320 4567,360 4527,320"/><text class="t"><tspan x="4567" y="310">User Wants to</tspan><tspan x="4567" y="324">Remove</tspan><tspan x="4567" y="338">schedule</tspan></text></g>
<g id="n-ad3-1"><polygon class="n" points="4515,450 4637,450 4619,510 4497,510"/><text class="t"><tspan x="4567" y="470">User clicks on the  row</tspan><tspan x="4567" y="484">they want to remove</tspan><tspan x="4567" y="498">schedule for</tspan></text></g>
<g id="n-ad3-2"><polygon class="n" points="4515,610 4637,610 4619,670 4497,670"/><text class="t"><tspan x="4567" y="637">Input date of schedule to</tspan><tspan x="4567" y="651">be removed</tspan></text></g>
<g id="n-ad3-3"><polygon class="n" points="4515,770 4637,770 4619,830 4497,830"/><text class="t"><tspan x="4567" y="797">Choose shift of schedule</tspan><tspan x="4567" y="811">to be removed</tspan></text></g>
<g id="n-ad3-4"><polygon class="n" points="4505,932 4627,932 4609,992 4487,992"/><text class="t"><tspan x="4557" y="959">Remove schedule button</tspan><tspan x="4557" y="973">is clicked</tspan></text></g>
<g id="n-ad3-5"><rect class="n" x="4507" y="1094" width="120" height="60"/><text class="t"><tspan x="4567" y="1114">Schedule is removed</tspan><tspan x="4567" y="1128">for the chosen</tspan><tspan x="4567" y="1142">employee</tspan></text></g>
<g id="n-ad3-6"><rect class="n" x="4507" y="1255" width="120" height="60"/><text class="t"><tspan x="4567" y="1275">Display the Database</tspan><tspan x="4567" y="1289">table with removed</tspan><tspan x="4567" y="1303">schedule</tspan></text></g>
<g id="n-ad4"><polygon class="n" points="4727,280 4767,320 4727,360 4687,320"/><text class="t"><tspan x="4727" y="317">User Wants to</tspan><tspan x="4727" y="331">Add role</tspan></text></g>
<g id="n-ad4-1"><polygon class="n" points="4675,450 4797,450 4779,510 4657,510"/><text class="t"><tspan x="4727" y="477">Choose FormAccess for</tspan><tspan x="4727" y="491">the role</tspan></text></g>
<g id="n-ad4-2"><polygon class="n" points="4675,610 4797,610 4779,670 4657,670"/><text class="t"><tspan x="4727" y="630">Input preferred role name</tspan><tspan x="4727" y="644">into the Role name</tspan><tspan x="4727" y="658">textbox</tspan></text></g>
<g id="n-ad4-3"><polygon class="n" points="4673,770 4795,770 4777,830 4655,830"/><text class="t" x="4725" y="804">Add role button is clicked</text></g>
<g id="n-ad4-4"><rect class="n" x="4667" y="929" width="120" height="60"/><text class="t"><tspan x="4727" y="942">Add a new role with</tspan><tspan x="4727" y="956">all fields filled in is</tspan><tspan x="4727" y="970">added according to</tspan><tspan x="4727" y="984">the input</tspan></text></g>
<g id="n-ad4-5"><rect class="n" x="4675" y="1089" width="120" height="60"/><text class="t"><tspan x="4735" y="1109">Display The</tspan><tspan x="4735" y="1123">Database table with</tspan><tspan x="4735" y="1137">the new role Added</tspan></text></g>
<g id="n-ad5"><polygon class="n" points="4887,280 4927,320 4887,360 4847,320"/><text class="t"><tspan x="4887" y="317">User Wants to</tspan><tspan x="4887" y="331">Update role</tspan></text></g>
<g id="n-ad5-1"><polygon class="n" points="4835,450 4957,450 4939,510 4817,510"/><text class="t"><tspan x="4887" y="470">User clicks on the table</tspan><tspan x="4887" y="484">row they want to update</tspan><tspan x="4887" y="498">role for</tspan></text></g>
<g id="n-ad5-2"><polygon class="n" points="4835,610 4957,610 4939,670 4817,670"/><text class="t"><tspan x="4887" y="637">Change the required</tspan><tspan x="4887" y="651">fields</tspan></text></g>
<g id="n-ad5-3"><polygon class="n" points="4825,770 4947,770 4929,830 4807,830"/><text class="t"><tspan x="4877" y="797">Update role button is</tspan><tspan x="4877" y="811">clicked</tspan></text></g>
<g id="n-ad5-4"><rect class="n" x="4827" y="932" width="120" height="60"/><text class="t"><tspan x="4887" y="959">Update database with</tspan><tspan x="4887" y="973">new changes</tspan></text></g>
<g id="n-ad5-5"><rect class="n" x="4837" y="1094" width="120" height="60"/><text class="t"><tspan x="4897" y="1107">Display database</tspan><tspan x="4897" y="1121">table and show</tspan><tspan x="4897" y="1135">changes if any have</tspan><tspan x="4897" y="1149">been made</tspan></text></g>
<g id="n-ad6"><polygon class="n" points="5047,280 5087,320 5047,360 5007,320"/><text class="t"><tspan x="5047" y="317">User Wants to</tspan><tspan x="5047" y="331">Remove role</tspan></text></g>
<g id="n-ad6-1"><polygon class="n" points="4995,450 5117,450 5099,510 4977,510"/><text class="t"><tspan x="5047" y="477">User clicks on the role</tspan><tspan x="5047" y="491">they want to remove</tspan></text></g>
<g id="n-ad6-2"><polygon class="n" points="4995,610 5117,610 5099,670 4977,670"/><text class="t"><tspan x="5047" y="637">Remove role button is</tspan><tspan x="5047" y="651">clicked</tspan></text></g>
<g id="n-ad6-3"><rect class="n" x="4987" y="770" width="120" height="60"/><text class="t"><tspan x="5047" y="797">Chosen role is</tspan><tspan x="5047" y="811">removed</tspan></text></g>
<g id="n-ad6-4"><rect class="n" x="4987" y="932" width="120" height="60"/><text class="t"><tspan x="5047" y="952">Display the Database</tspan><tspan x="5047" y="966">table with removed</tspan><tspan x="5047" y="980">role</tspan></text></g>
<g id="n-ad7"><polygon class="n" points="5207,280 5247,320 5207,360 5167,320"/><text class="t"><tspan x="5207" y="303">User Wants to</tspan><tspan x="5207" y="317">view</tspan><tspan x="5207" y="331">employee and</tspan><tspan x="5207" y="345">roles</tspan></text></g>
<g id="n-ad7-1"><polygon class="n" points="5155,450 5277,450 5259,510 5137,510"/><text class="t"><tspan x="5207" y="477">View Employees and</tspan><tspan x="5207" y="491">Roles button is clicked</tspan></text></g>
<g id="n-ad7-2"><rect class="n" x="5147" y="610" width="120" height="60"/><text class="t"><tspan x="5207" y="630">Query the database</tspan><tspan x="5207" y="644">to see employees and</tspan><tspan x="5207" y="658">their role information</tspan></text></g>
<g id="n-ad7-3"><rect class="n" x="5147" y="770" width="120" height="60"/><text class="t"><tspan x="5207" y="790">Display database</tspan><tspan x="5207" y="804">table with employee</tspan><tspan x="5207" y="818">and role info</tspan></text></g>
<g id="n-ad8"><polygon class="n" points="5367,280 5407,320 5367,360 5327,320"/><text class="t"><tspan x="5367" y="303">User Wants to</tspan><tspan x="5367" y="317">Refresh the</tspan><tspan x="5367" y="331">roles table to</tspan><tspan x="5367" y="345">see changes</tspan></text></g>
<g id="n-ad8-1"><polygon class="n" points="5317,450 5439,450 5421,510 5299,510"/><text class="t" x="5369" y="484">Refresh button is clicked</text></g>
<g id="n-ad8-2"><rect class="n" x="5306" y="610" width="120" height="60"/><text class="t"><tspan x="5366" y="623">Display original</tspan><tspan x="5366" y="637">database table and</tspan><tspan x="5366" y="651">show changes if any</tspan><tspan x="5366" y="665">have been made</tspan></text></g>
<g id="n-ad9"><polygon class="n" points="5527,280 5567,320 5527,360 5487,320"/><text class="t"><tspan x="5527" y="310">User Wants to</tspan><tspan x="5527" y="324">Add new</tspan><tspan x="5527" y="338">department</tspan></text></g>
<g id="n-ad9-1"><polygon class="n" points="5475,450 5597,450 5579,510 5457,510"/><text class="t"><tspan x="5527" y="463">Input preferred</tspan><tspan x="5527" y="477">department name into the</tspan><tspan x="5527" y="491">Department name</tspan><tspan x="5527" y="505">textbox</tspan></text></g>
<g id="n-ad9-2"><polygon class="n" points="5475,610 5597,610 5579,670 5457,670"/><text class="t"><tspan x="5527" y="637">Add department button is</tspan><tspan x="5527" y="651">clicked</tspan></text></g>
<g id="n-ad9-3"><rect class="n" x="5467" y="770" width="120" height="60"/><text class="t"><tspan x="5527" y="783">Add a new</tspan><tspan x="5527" y="797">department with all</tspan><tspan x="5527" y="811">fields filled in is added</tspan><tspan x="5527" y="825">according to the input</tspan></text></g>
<g id="n-ad9-4"><rect class="n" x="5467" y="932" width="120" height="60"/><text class="t"><tspan x="5527" y="945">Display The</tspan><tspan x="5527" y="959">Database table with</tspan><tspan x="5527" y="973">the new deapartment</tspan><tspan x="5527" y="987">Added</tspan></text></g>
<g id="n-ad10"><polygon class="n" points="5687,280 5727,320 5687,360 5647,320"/><text class="t"><tspan x="5687" y="310">User Wants to</tspan><tspan x="5687" y="324">Update</tspan><tspan x="5687" y="338">department</tspan></text></g>
<g id="n-ad10-1"><polygon class="n" points="5635,450 5757,450 5739,510 5617,510"/><text class="t"><tspan x="5687" y="470">User clicks on the table</tspan><tspan x="5687" y="484">row they want to update</tspan><tspan x="5687" y="498">department for</tspan></text></g>
<g id="n-ad10-2"><polygon class="n" points="5635,610 5757,610 5739,670 5617,670"/><text class="t" x="5687" y="644">Change required field</text></g>
<g id="n-ad10-3"><polygon class="n" points="5635,770 5757,770 5739,830 5617,830"/><text class="t"><tspan x="5687" y="797">Update department</tspan><tspan x="5687" y="811">button is clicked</tspan></text></g>
<g id="n-ad10-4"><rect class="n" x="5637" y="929" width="120" height="60"/><text class="t"><tspan x="5697" y="956">Update database with</tspan><tspan x="5697" y="970">new changes</tspan></text></g>
<g id="n-ad10-5"><rect class="n" x="5647" y="1089" width="120" height="60"/><text class="t"><tspan x="5707" y="1102">Display database</tspan><tspan x="5707" y="1116">table and show</tspan><tspan x="5707" y="1130">changes if any have</tspan><tspan x="5707" y="1144">been made</tspan></text></g>
<g id="n-ad11"><polygon class="n" points="5847,280 5887,320 5847,360 5807,320"/><text class="t"><tspan x="5847" y="310">User Wants to</tspan><tspan x="5847" y="324">Remove</tspan><tspan x="5847" y="338">department</tspan></text></g>
<g id="n-ad11-1"><polygon class="n" points="5795,450 5917,450 5899,510 5777,510"/><text class="t"><tspan x="5847" y="470">User clicks on the</tspan><tspan x="5847" y="484">department they want to</tspan><tspan x="5847" y="498">remove</tspan></text></g>
<g id="n-ad11-2"><polygon class="n" points="5795,610 5917,610 5899,670 5777,670"/><text class="t"><tspan x="5847" y="637">Remove Department</tspan><tspan x="5847" y="651">button is clicked</tspan></text></g>
<g id="n-ad11-3"><polygon class="n" points="5785,770 5907,770 5889,830 5767,830"/><text class="t"><tspan x="5837" y="797">Chosen Department is</tspan><tspan x="5837" y="811">removed</tspan></text></g>
<g id="n-ad11-4"><rect class="n" x="5787" y="932" width="120" height="60"/><text class="t"><tspan x="5847" y="952">Display the database</tspan><tspan x="5847" y="966">table with removed</tspan><tspan x="5847" y="980">department</tspan></text></g>
<g id="n-ad12"><polygon class="n" points="6006,280 6046,320 6006,360 5966,320"/><text class="t"><tspan x="6006" y="303">User Wants to</tspan><tspan x="6006" y="317">view</tspan><tspan x="6006" y="331">employee and</tspan><tspan x="6006" y="345">departments</tspan></text></g>
<g id="n-ad12-1"><polygon class="n" points="5946,450 6068,450 6050,510 5928,510"/><text class="t"><tspan x="5998" y="470">View Employees and</tspan><tspan x="5998" y="484">Departments button is</tspan><tspan x="5998" y="498">clicked</tspan></text></g>
<g id="n-ad12-2"><rect class="n" x="5958" y="610" width="120" height="60"/><text class="t"><tspan x="6018" y="623">Query the database</tspan><tspan x="6018" y="637">to see employees and</tspan><tspan x="6018" y="651">their department</tspan><tspan x="6018" y="665">information</tspan></text></g>
<g id="n-ad12-3"><rect class="n" x="5947" y="770" width="120" height="60"/><text class="t"><tspan x="6007" y="790">Display database</tspan><tspan x="6007" y="804">table with employee</tspan><tspan x="6007" y="818">and department info</tspan></text></g>
<g id="n-ad13"><polygon class="n" points="6167,280 6207,320 6167,360 6127,320"/><text class="t"><tspan x="6167" y="296">User Wants to</tspan><tspan x="6167" y="310">Refresh the</tspan><tspan x="6167" y="324">departments</tspan><tspan x="6167" y="338">table to see</tspan><tspan x="6167" y="352">changes</tspan></text></g>
<g id="n-ad13-1"><polygon class="n" points="6108,450 6230,450 6212,510 6090,510"/><text class="t" x="6160" y="484">Refresh button is clicked</text></g>
<g id="n-ad13-2"><rect class="n" x="6118" y="610" width="120" height="60"/><text class="t"><tspan x="6178" y="623">Display original</tspan><tspan x="6178" y="637">database table and</tspan><tspan x="6178" y="651">show changes if any</tspan><tspan x="6178" y="665">have been made</tspan></text></g>
</g>
</svg>
